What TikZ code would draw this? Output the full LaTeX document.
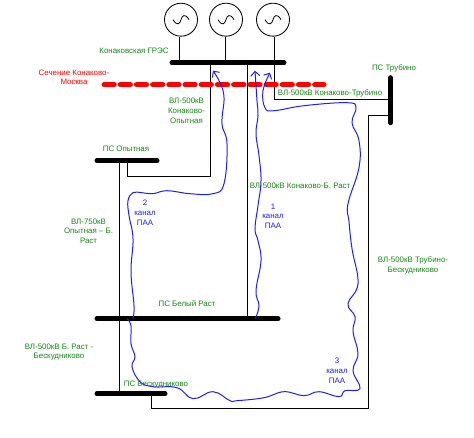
\documentclass[tikz,border=0pt]{standalone}
\usepackage{fontspec}
\setmainfont{Liberation Sans}
\usetikzlibrary{arrows.meta}
\definecolor{lblgreen}{RGB}{20,135,20}
\definecolor{lblblue}{RGB}{30,30,240}
\tikzset{
  x=1pt,y=-1pt,
  busbar/.style={line width=5pt,line cap=round,black},
  wire/.style={line width=0.85pt,black},
  gen/.style={draw,circle,line width=0.85pt,minimum size=33pt,inner sep=0pt},
  lbl/.style={text=lblgreen,font=\fontsize{7.9}{9.7}\selectfont,align=center,inner sep=0pt},
  redlbl/.style={lbl,text=red},
  bluelbl/.style={lbl,text=lblblue,font=\fontsize{7.9}{9.6}\selectfont},
  paa/.style={draw=lblblue,line width=1pt,-{Straight Barb[length=4.5pt,width=9pt]}},
  section/.style={red,line width=5pt,line cap=round,dash pattern=on 10.2pt off 6pt}
}
\begin{document}
\begin{tikzpicture}
\useasboundingbox (0,-0.7) rectangle (474,437.3);
% generators
\node[gen] (g1) at (181,19) {};
\node[gen] (g2) at (226,19) {};
\node[gen] (g3) at (273,19) {};
\foreach \n in {g1,g2,g3}{
  \draw[line width=0.8pt] ([xshift=-8pt]\n.center) .. controls ([xshift=-4pt,yshift=-7pt]\n.center) and ([xshift=-1pt,yshift=-4pt]\n.center) .. (\n.center) .. controls ([xshift=1pt,yshift=4pt]\n.center) and ([xshift=4pt,yshift=7pt]\n.center) .. ([xshift=8pt]\n.center);
}
% bus end points
\coordinate (konL) at (172,62);   \coordinate (konR) at (284,62);
\coordinate (opyL) at (97,160);   \coordinate (opyR) at (157,160);
\coordinate (belL) at (97,318);   \coordinate (belR) at (278,318);
\coordinate (besL) at (97,393);   \coordinate (besR) at (165,393);
\coordinate (truT) at (390.5,77); \coordinate (truB) at (390.5,122);
\coordinate (secL) at (104,84);   \coordinate (secR) at (324,84);
% tap points on the buses
\coordinate (k1) at (179.5,62); \coordinate (k2) at (225.5,62); \coordinate (k3) at (274.5,62);
\coordinate (k4) at (210.5,62); \coordinate (k5) at (247.7,62);
\coordinate (o1) at (127.5,160); \coordinate (o2) at (119.5,160);
\coordinate (b1) at (247.7,318);
\coordinate (s1) at (119.5,393); \coordinate (s2) at (151.5,393);
\coordinate (t1) at (390.5,99); \coordinate (t2) at (390.5,114.5);
% wires
\draw[wire] (g1.south -| k1) -- (k1);
\draw[wire] (g2.south -| k2) -- (k2);
\draw[wire] (g3.south -| k3) -- (k3);
\draw[wire] (k4) |- (o1 |- 0,175.5) -- (o1);
\draw[wire] (k5) -- (b1);
\draw[wire] (k3) |- (t1);
\draw[wire] (o2) -- (s1);
\draw[wire] (s2) |- (368.5,408) |- (t2);
% buses
\draw[busbar] (konL) -- (konR);
\draw[busbar] (opyL) -- (opyR);
\draw[busbar] (belL) -- (belR);
\draw[busbar] (besL) -- (besR);
\draw[busbar] (truT) -- (truB);
\draw[section] (secL) -- (secR);
% PAA channels
\draw[paa] plot[smooth,tension=0.7] coordinates {(255.3,318) (259,305) (256,290) (261,260) (258,240) (255,228) (258,205) (261,180) (259,155) (256,133) (258,115) (257,100) (256,85) (255,70)};
\draw[paa] plot[smooth,tension=0.7] coordinates {(133,318) (134,305) (131,271) (133,238) (129,215) (128,200) (133,192) (142,192) (153,193) (167,190) (190,193) (213,193) (224,183) (227,143) (222,123) (224,97) (220,82) (213,70)};
\draw[paa] plot[smooth,tension=0.7] coordinates {(127,318) (131,325) (131,343) (135,356) (132,366) (140,381) (153,386) (177,387) (193,398) (213,391) (230,400) (237,400) (264,397) (284,391) (304,395) (319,391) (339,396) (345,390) (360,388) (353,370) (358,353) (353,331) (355,316) (348,303) (358,283) (352,248) (349,221) (348,203) (359,167) (359,140) (352,122) (356,107) (347,102) (304,105) (274,110) (265,107) (263,90) (270,72)};
% labels
\node[lbl] (lKon) at (134,50) {Конаковская ГРЭС};
\node[redlbl] (lSec) at (74,76.5) {Сечение Конаково-\\Москва};
\node[lbl] (lKO) at (186.5,110) {ВЛ-500кВ\\Конаково-\\Опытная};
\node[lbl] (lOpy) at (126,148.5) {ПС Опытная};
\node[bluelbl] (c2) at (145,212) {2\\канал\\ПАА};
\node[lbl] (lOB) at (88.5,230.5) {ВЛ-750кВ\\Опытная – Б.\\Раст};
\node[lbl] (lBel) at (187,302.5) {ПС Белый Раст};
\node[lbl] (lBB) at (59,351.5) {ВЛ-500кВ Б. Раст -\\Бескудниково};
\node[lbl] (lBes) at (156,384) {ПС Бескудниково};
\node[lbl] (lTru) at (394,67.5) {ПС Трубино};
\node[lbl] (lKT) at (330,93) {ВЛ-500кВ Конаково-Трубино};
\node[lbl] (lKB) at (300,185) {ВЛ-500кВ Конаково-Б. Раст};
\node[bluelbl] (c1) at (273,215.5) {1\\канал\\ПАА};
\node[lbl] (lTB) at (413,265) {ВЛ-500кВ Трубино-\\Бескудниково};
\node[bluelbl] (c3) at (337,370) {3\\канал\\ПАА};
\end{tikzpicture}
\end{document}
